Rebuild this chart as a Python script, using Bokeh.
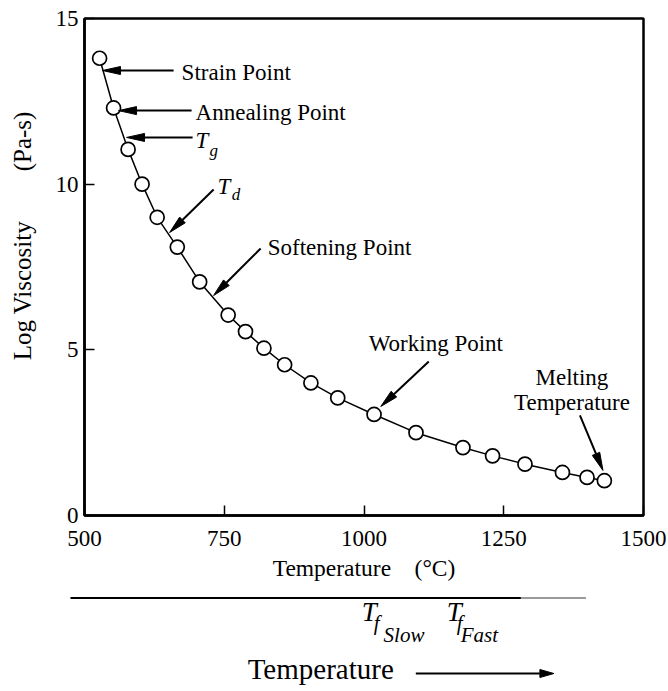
import math
from bokeh.plotting import figure
from bokeh.models import Range1d, FixedTicker
from bokeh.layouts import column
from bokeh.embed import file_html
from bokeh.resources import INLINE
from bokeh.core.properties import value

FONT = "Liberation Serif"
NB = "\u00a0"

# ---------------- data ----------------
temperature_c = [527, 552, 578, 603, 630, 666, 706, 757, 788, 821, 858,
                 905, 953, 1018, 1093, 1177, 1230, 1288, 1355, 1399, 1430]
log_viscosity = [13.8, 12.3, 11.05, 10.0, 9.0, 8.1, 7.05, 6.05, 5.55, 5.05, 4.55,
                 4.0, 3.55, 3.05, 2.5, 2.05, 1.8, 1.55, 1.3, 1.15, 1.05]
x_ticks = [500, 750, 1000, 1250, 1500]
y_ticks = [0, 5, 10, 15]
x_title = "Temperature" + NB * 4 + "(°C)"
# leading non-breaking spaces lift the rotated label above the frame centre
y_title = NB * 10 + "Log Viscosity" + NB * 8 + "(Pa-s)"

# named points (text, position in data units)
point_labels = ["Strain Point", "Annealing Point", "Softening Point", "Working Point"]
point_label_x = [673.7, 698.7, 827.7, 1008.5]
point_label_y = [13.37, 12.16, 8.09, 5.19]
melt_labels = ["Melting", "Temperature"]
melt_label_x = [1372, 1372]
melt_label_y = [4.17, 3.41]
sym_text = ["T", "T"]
sym_x = [698.7, 738.1]
sym_y = [11.32, 9.92]
sub_text = ["g", "d"]
sub_x = [723.8, 763.2]
sub_y = [11.02, 9.69]

# arrows: start -> tip (data units)
arrow_x0 = [659.4, 691.6, 693.4, 731.0, 815.1, 1115.9, 1386.3]
arrow_y0 = [13.43, 12.22, 11.41, 9.84, 8.06, 4.65, 3.02]
arrow_x1 = [532.2, 560.9, 575.2, 652.2, 731.0, 1030.0, 1427.5]
arrow_y1 = [13.43, 12.22, 11.41, 8.54, 6.64, 3.29, 1.36]

# schematic strip under the chart (x on the deg C scale, y in px below strip top)
tf_T_x = [996.0, 1148.2]
tf_f_x = [1017.5, 1166.0]
tf_sub = ["Slow", "Fast"]
tf_sub_x = [1035.0, 1173.0]
rule_x = [474.9, 1280.7, 1397.0]

# ---------------- layout ----------------
W = 668
H1 = 595
H2 = 95
BL, BR, BT, BB = 84, 25, 18, 80
XMIN, XMAX, YMIN, YMAX = 500, 1500, 0, 15
sx1 = (W - BL - BR) / (XMAX - XMIN)
sy1 = (H1 - BT - BB) / (YMAX - YMIN)


def arrow_heads(x0s, y0s, x1s, y1s, sx, sy, length, width):
    hx, hy, bx, by = [], [], [], []
    for x0, y0, x1, y1 in zip(x0s, y0s, x1s, y1s):
        dx, dy = (x1 - x0) * sx, (y1 - y0) * sy
        n = math.hypot(dx, dy)
        ux, uy = dx / n, dy / n
        bxs, bys = x1 * sx - length * ux, y1 * sy - length * uy
        px, py = -uy, ux
        hx.append([x1, (bxs + width / 2 * px) / sx, (bxs - width / 2 * px) / sx])
        hy.append([y1, (bys + width / 2 * py) / sy, (bys - width / 2 * py) / sy])
        bx.append(bxs / sx)
        by.append(bys / sy)
    return hx, hy, bx, by


p = figure(width=W, height=H1, x_range=Range1d(XMIN, XMAX), y_range=Range1d(YMIN, YMAX),
           output_backend="svg", toolbar_location=None,
           min_border_left=BL, min_border_right=BR, min_border_top=BT, min_border_bottom=BB)
p.frame_align = False
p.grid.visible = False
p.outline_line_color = "black"
p.outline_line_width = 2.5
p.background_fill_color = "white"
p.border_fill_color = "white"

for ax, ticks in ((p.xaxis[0], x_ticks), (p.yaxis[0], y_ticks)):
    ax.ticker = FixedTicker(ticks=ticks)
    ax.major_tick_in = 10
    ax.major_tick_out = 0
    ax.minor_tick_in = 0
    ax.minor_tick_out = 0
    ax.major_tick_line_color = "black"
    ax.major_tick_line_width = 1.5
    ax.axis_line_color = "black"
    ax.axis_line_width = 2.5
    ax.major_label_text_font = FONT
    ax.major_label_text_font_size = "23px"
    ax.major_label_text_color = "black"
    ax.axis_label_text_font = FONT
    ax.axis_label_text_font_style = "normal"
    ax.axis_label_text_color = "black"

p.xaxis.major_label_standoff = 15
p.yaxis.major_label_standoff = 6
p.xaxis.axis_label = x_title
p.xaxis.axis_label_text_font_size = "23.5px"
p.xaxis.axis_label_standoff = 6
p.yaxis.axis_label = y_title
p.yaxis.axis_label_text_font_size = "25px"
p.yaxis.axis_label_standoff = 17

# curve and markers
p.line(temperature_c, log_viscosity, line_color="black", line_width=1.5)
p.scatter(temperature_c, log_viscosity, size=14, marker="circle",
          fill_color="white", line_color="black", line_width=1.7)

# arrows
hx, hy, bx, by = arrow_heads(arrow_x0, arrow_y0, arrow_x1, arrow_y1, sx1, sy1, 18, 8)
p.segment(arrow_x0, arrow_y0, bx, by, line_color="black", line_width=2)
p.patches(hx, hy, fill_color="black", line_color="black", line_width=1)

# labels
p.text(point_label_x, point_label_y, text=point_labels, text_font=value(FONT),
       text_font_size=value("23px"), text_align="left", text_baseline="middle",
       text_color="black")
p.text(melt_label_x, melt_label_y, text=melt_labels, text_font=value(FONT),
       text_font_size=value("23px"), text_align="center", text_baseline="middle",
       text_color="black")
p.text(sym_x, sym_y, text=sym_text, text_font=value(FONT), text_font_style="italic",
       text_font_size=value("23px"), text_align="left", text_baseline="middle",
       text_color="black")
p.text(sub_x, sub_y, text=sub_text, text_font=value(FONT), text_font_style="italic",
       text_font_size=value("17px"), text_align="left", text_baseline="middle",
       text_color="black")

# ---------------- schematic strip ----------------
x2_start = XMIN - BL / sx1
x2_end = XMAX + BR / sx1
q = figure(width=W, height=H2, x_range=Range1d(x2_start, x2_end), y_range=Range1d(H2, 0),
           output_backend="svg", toolbar_location=None, x_axis_location=None,
           y_axis_location=None, min_border_left=0, min_border_right=0,
           min_border_top=0, min_border_bottom=0)
q.frame_align = False
q.grid.visible = False
q.outline_line_color = None
q.background_fill_color = "white"
q.border_fill_color = "white"

q.segment([rule_x[0]], [2.5], [rule_x[1]], [2.5], line_color="black", line_width=2.2)
q.segment([rule_x[1]], [2.5], [rule_x[2]], [2.5], line_color="#9a9a9a", line_width=1.8)

q.text(tf_T_x, [16.5, 16.5], text=["T", "T"], text_font=value(FONT), text_font_style="italic",
       text_font_size=value("27px"), text_align="left", text_baseline="middle",
       text_color="black")
q.text(tf_f_x, [27, 27], text=["f", "f"], text_font=value(FONT), text_font_style="italic",
       text_font_size=value("21px"), text_align="left", text_baseline="middle",
       text_color="black")
q.text(tf_sub_x, [39, 39], text=tf_sub, text_font=value(FONT), text_font_style="italic",
       text_font_size=value("21px"), text_align="left", text_baseline="middle",
       text_color="black")

q.text([791.9], [73], text=["Temperature"], text_font=value(FONT),
       text_font_size=value("29px"), text_align="left", text_baseline="middle",
       text_color="black")
ax0, ay0, ax1, ay1 = [1092.7], [78.0], [1339.7], [78.0]
hx2, hy2, bx2, by2 = arrow_heads(ax0, ay0, ax1, ay1, sx1, -1.0, 14, 8)
q.segment(ax0, ay0, bx2, by2, line_color="black", line_width=2)
q.patches(hx2, hy2, fill_color="black", line_color="black", line_width=1)

layout = column(p, q, spacing=0)
open("out.html", "w").write(file_html(layout, INLINE))
